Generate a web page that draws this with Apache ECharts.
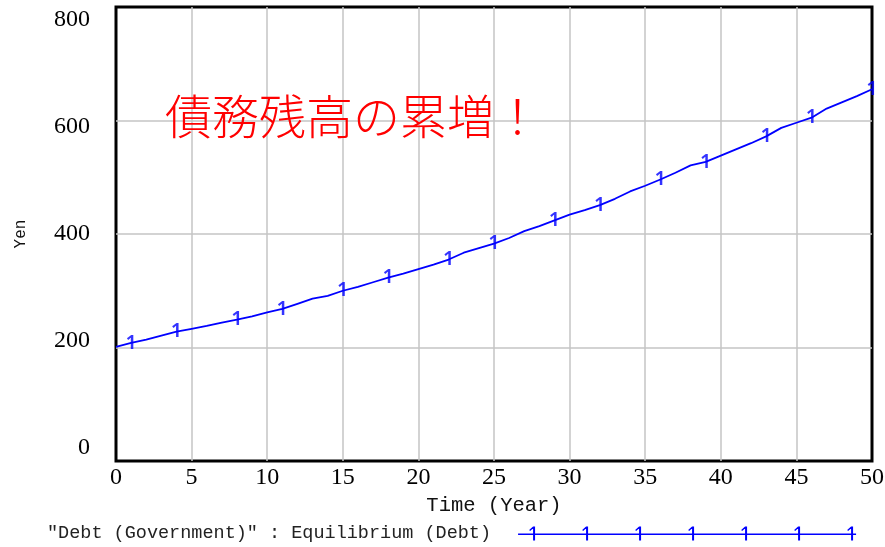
<!DOCTYPE html>
<html>
<head>
<meta charset="utf-8">
<script src="https://cdn.jsdelivr.net/npm/echarts@6/dist/echarts.min.js"></script>
<style>html,body{margin:0;padding:0;background:#fff}#c{width:885px;height:547px}</style>
</head>
<body>
<div id="c"></div>
<script>
// Data
var years = [];
for (var i = 0; i <= 50; i++) years.push(i);
var debt = [201,208,214,221,228,233,238,244,249,255,
            262,268,277,286,291,300,307,315,323,330,
            338,346,355,367,375,383,393,405,414,424,
            434,442,451,462,475,485,496,508,521,527,
            538,549,560,572,587,596,605,621,632,643,655];
var markerYears = [1,4,8,11,15,18,22,25,29,32,36,39,43,46,50];
var yTickLabels = [0,200,400,600,800];
var seriesName = '"Debt (Government)" : Equilibrium (Debt)';
var annotation = '債務残高の累増！';

var lineData = years.map(function(y, i){ return [y, debt[i]]; });
var markData = markerYears.map(function(y){ return [y, debt[years.indexOf(y)]]; });

// legend icon: line with "1" marks
var iconPath = 'path://M0,9 H338 V10.6 H0 Z';
[16,69,122,175,228,281,334].forEach(function(x){
  iconPath += ' M' + (x-1) + ',2 H' + (x+1) + ' V16 H' + (x-1) + ' Z';
  iconPath += ' M' + (x-1) + ',2 L' + (x+0.4) + ',2.8 L' + (x-4) + ',6.5 L' + (x-4.9) + ',5.5 Z';
});

var chart = echarts.init(document.getElementById('c'));
chart.setOption({
  animation: false,
  backgroundColor: '#fff',
  title: {
    text: annotation, left: 160, top: 88,
    textStyle: {color: '#ff0000', fontSize: 47, fontWeight: 300, fontFamily: '"Noto Sans CJK JP"'}
  },
  grid: {left: 116, right: 13, top: 7, bottom: 86, show: true, borderColor: '#000', borderWidth: 3,
         containLabel: false, outerBoundsMode: 'none'},
  legend: {
    data: [seriesName], left: 42, top: 519, align: 'right',
    itemWidth: 338, itemHeight: 16, icon: iconPath,
    textStyle: {fontFamily: '"Liberation Mono"', fontSize: 18.5, color: '#222', padding: [0, 22, 0, 0]}
  },
  xAxis: {
    type: 'value', min: 0, max: 50, interval: 5,
    name: 'Time (Year)', nameLocation: 'middle', nameGap: 32,
    nameTextStyle: {fontFamily: '"Liberation Mono"', fontSize: 20.5, color: '#111'},
    axisLine: {show: false}, axisTick: {show: false},
    axisLabel: {fontFamily: '"Liberation Serif"', fontSize: 24, color: '#000', margin: 5},
    splitLine: {show: true, showMinLine: false, showMaxLine: false, lineStyle: {color: '#c4c4c4', width: 1.5}}
  },
  yAxis: [{
    type: 'value', min: 0, max: 800, interval: 200,
    name: 'Yen', nameLocation: 'middle', nameGap: 87, nameRotate: 90,
    nameTextStyle: {fontFamily: '"Liberation Mono"', fontSize: 16, color: '#111'},
    axisLine: {show: false}, axisTick: {show: false}, axisLabel: {show: false},
    splitLine: {show: true, showMinLine: false, showMaxLine: false, lineStyle: {color: '#c4c4c4', width: 1.5}}
  }, {
    type: 'value', position: 'left', min: -25.2, max: 823.4,
    axisLine: {show: false}, axisTick: {show: false}, splitLine: {show: false},
    axisLabel: {customValues: yTickLabels, fontFamily: '"Liberation Serif"', fontSize: 24, color: '#000', margin: 26}
  }],
  series: [{
    name: seriesName, type: 'line', data: lineData, showSymbol: false, symbol: 'none',
    lineStyle: {color: '#0000ff', width: 1.8}, itemStyle: {color: '#0000ff'}, z: 3
  }, {
    name: 'marks', type: 'scatter', data: markData, symbolSize: 0,
    label: {show: true, position: 'inside', formatter: '1', color: '#0000ff',
            fontFamily: '"Noto Sans"', fontSize: 20, fontWeight: 600},
    z: 4
  }]
});
</script>
</body>
</html>
